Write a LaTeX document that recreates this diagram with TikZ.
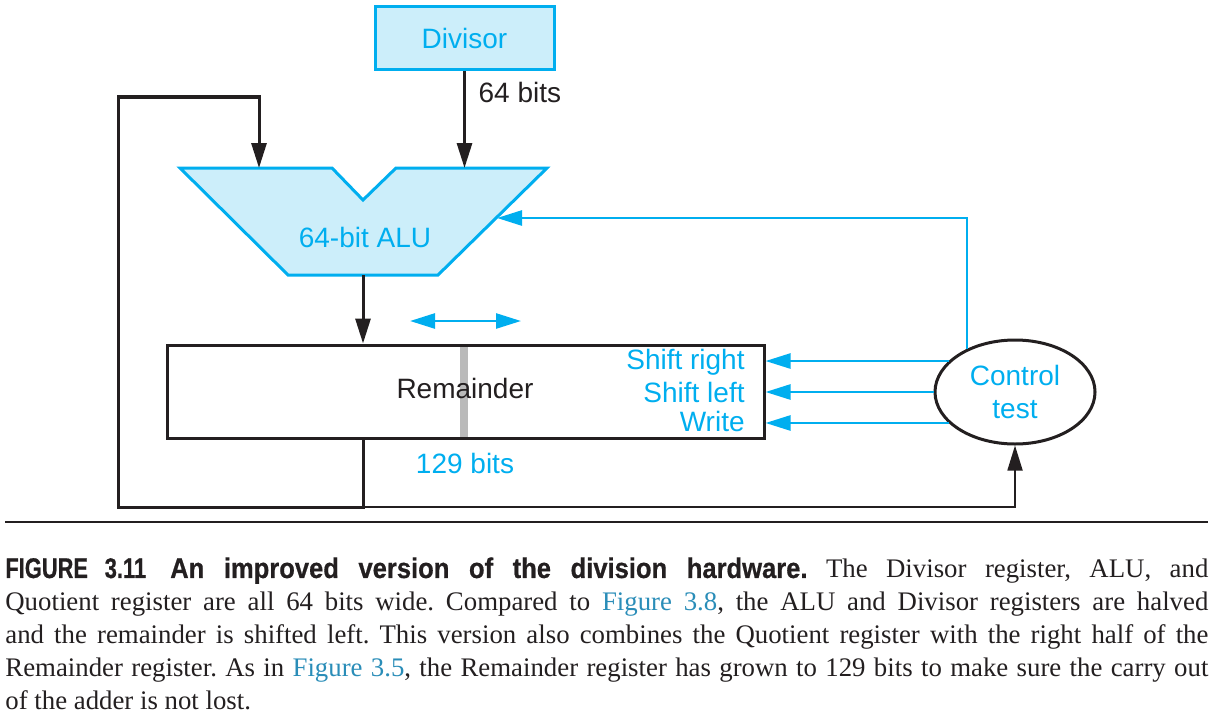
\documentclass[tikz,border=0pt]{standalone}
\usepackage{fontspec}
\setmainfont{Liberation Serif}
\setsansfont{Liberation Sans}
\newfontfamily\figfont[FakeStretch=0.9,FakeBold=0.6]{Liberation Sans}
\newfontfamily\fignum[FakeStretch=0.77,FakeBold=0.6]{Liberation Sans}
\usetikzlibrary{
  positioning,
  arrows.meta,
  shapes.geometric,
  calc
}
\definecolor{cyanline}{HTML}{00AEEF}
\definecolor{cyanfill}{HTML}{CCEEFA}
\definecolor{linkblue}{HTML}{2A8DB8}
\definecolor{inkblack}{HTML}{231F20}

\begin{document}
\frenchspacing
\begin{tikzpicture}[x=0.5pt,y=-0.5pt,
  every node/.style={font=\sffamily\fontsize{14}{16.5}\selectfont},
  bus/.style={line width=1.5pt,draw=inkblack},
  wire/.style={line width=0.9pt,draw=inkblack},
  ctl/.style={line width=1.3pt,draw=cyanline},
  tip/.style={-{Triangle[length=12.5pt,width=7.5pt]}},
  unit/.style={draw=cyanline,fill=cyanfill,line width=1.5pt}]
  \useasboundingbox (0,0) rectangle (1218,717);
  % Divisor
  \node[unit,minimum width=89.5pt,minimum height=31.5pt,text=cyanline] (divisor) at (464.5,38.5) {Divisor};
  % ALU
  \draw[unit] (180,168) -- (332,168) -- (363,200) -- (396,168) -- (547,168)
    -- (438,275) -- (288,275) -- cycle;
  \node[text=cyanline] (alu) at (365,237) {64-bit ALU};
  \coordinate (aluA) at (259,168);
  \coordinate (aluB) at (divisor.south |- aluA);
  \coordinate (aluOut) at (363,275);
  \coordinate (aluCtl) at (497,218);
  % Remainder
  \fill[black!27] (460,345) rectangle (468,438);
  \node[bus,minimum width=298.5pt,minimum height=46.5pt,inner sep=0pt] (rem) at (465.5,391.5) {};
  \node[text=inkblack] (remtxt) at (465,388) {Remainder};
  \node[text=cyanline,anchor=east,inner sep=0pt] (shr) at (745,362) {Shift right};
  \node[text=cyanline,anchor=east,inner sep=0pt] (shl) at (745,392) {Shift left};
  \node[text=cyanline,anchor=east,inner sep=0pt] (wr) at (745,421) {Write};
  \node[text=cyanline] (width) at (465,463) {129 bits};
  \coordinate (sl) at (410,321);
  \coordinate (sr) at (521,321);
  \draw[ctl,{Triangle[length=12.5pt,width=7.5pt]}-{Triangle[length=12.5pt,width=7.5pt]}] (sl) -- (sr);
  % Control
  \node[draw=inkblack,line width=1.5pt,ellipse,minimum width=80pt,minimum height=52pt,
    inner sep=0pt,align=center,text=cyanline] (ctrl) at (1015,392) {Control\\test};
  % datapath
  \draw[bus,tip] (divisor.south) -- (aluB)
    node[pos=0.22,right=3pt,text=inkblack]{64 bits};
  \draw[bus,tip] (aluOut) -- (aluOut |- rem.north);
  \coordinate (fb) at (363,507);
  \draw[bus,tip] (aluOut |- rem.south) -- (fb) -- (118,507) -- (118,97) -| (aluA);
  \draw[wire,tip] (fb) -| (ctrl.south);
  % control lines
  \draw[ctl,tip] (ctrl.138) |- (aluCtl);
  \draw[ctl,tip] (ctrl.155) -- (ctrl.155 -| rem.east);
  \draw[ctl,tip] (ctrl.west) -- (ctrl.west -| rem.east);
  \draw[ctl,tip] (ctrl.205) -- (ctrl.205 -| rem.east);
  % caption
  \draw[line width=1pt,inkblack] (5,522) -- (1208,522);
  \node[anchor=north west,inner sep=0pt,text width=601.5pt,align=justify,text=inkblack,
    font=\rmfamily\fontsize{13.4}{16.5}\selectfont] (cap) at (5,557)
    {{\fontsize{14.2}{16.5}\selectfont\bfseries{\fignum FIGURE 3.11}\hspace{0.85em}{\figfont An improved version of the division hardware.}}
    The Divisor register, ALU, and\linebreak
    Quotient register are all 64 bits wide. Compared to \textcolor{linkblue}{Figure 3.8}, the ALU and Divisor registers are halved\linebreak
    and the remainder is shifted left. This version also combines the Quotient register with the right half of the\linebreak
    Remainder register. As in \textcolor{linkblue}{Figure 3.5}, the Remainder register has grown to 129 bits to make sure the carry out\linebreak
    of the adder is not lost.};
\end{tikzpicture}
\end{document}
